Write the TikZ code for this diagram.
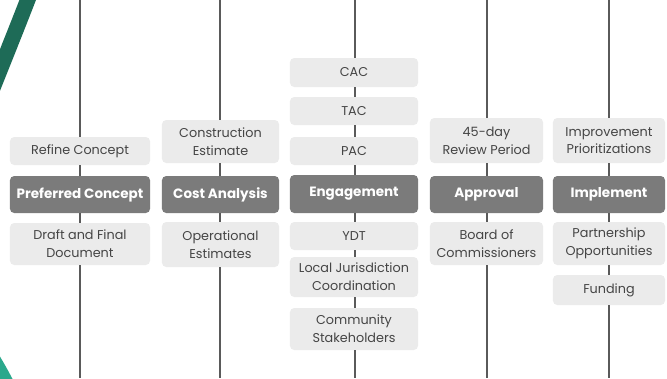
\documentclass[tikz,border=0pt]{standalone}
\usepackage{fontspec}
\setmainfont{Poppins}
\usetikzlibrary{positioning}

\definecolor{boxgray}{HTML}{EBEBEB}
\definecolor{darkbox}{HTML}{7B7B7B}
\definecolor{txtgray}{HTML}{454545}
\definecolor{linegray}{HTML}{5A5A5A}
\definecolor{arcgreen}{HTML}{1E6B57}
\definecolor{arcteal}{HTML}{2BA88C}

\tikzset{
	lightbox/.style={fill=boxgray, rounded corners=3pt, align=center, inner sep=0pt,
		text=txtgray, font=\fontsize{9.1}{12.6}\selectfont},
	darkboxed/.style={fill=darkbox, rounded corners=3pt, align=center, inner sep=0pt,
		text=white, font=\fontsize{9.6}{11}\selectfont\bfseries, minimum height=0.925cm},
	stem/.style={draw=linegray, line width=1.4pt},
	tick/.style={draw=linegray, line width=1.1pt}
}

\begin{document}
\begin{tikzpicture}[x=0.025cm, y=-0.025cm]
		\useasboundingbox (0,0) rectangle (667,378);
		\begin{scope}
			\clip (0,0) rectangle (667,378);
			\draw[arcgreen, line width=11pt] (30,-6) .. controls (20,20) and (8,50) .. (-8,90); %top band%
			\draw[arcteal, line width=9pt] (-10,352) .. controls (-3,364) and (2,372) .. (10,388); %bottom band%
		\end{scope}
		% column 1
		\node[lightbox, minimum width=3.5cm, minimum height=0.7cm] (refine) at (80,151) {Refine Concept};
		\node[darkboxed, minimum width=3.5cm] (preferred) at (80,194.5) {Preferred Concept};
		\node[lightbox, minimum width=3.5cm, minimum height=1.05cm] (draft) at (80,244) {Draft and Final\\Document};
		% column 2
		\node[lightbox, minimum width=2.925cm, minimum height=1.075cm] (construct) at (220.5,141.5) {Construction\\Estimate};
		\node[darkboxed, minimum width=2.925cm] (cost) at (220.5,194.5) {Cost Analysis};
		\node[lightbox, minimum width=2.925cm, minimum height=1.125cm] (operate) at (220.5,244.5) {Operational\\Estimates};
		% column 3
		\node[lightbox, minimum width=3.2cm, minimum height=0.725cm] (cac) at (354,72.5) {CAC};
		\node[lightbox, minimum width=3.2cm, minimum height=0.7cm] (tac) at (354,111) {TAC};
		\node[lightbox, minimum width=3.2cm, minimum height=0.7cm] (pac) at (354,151) {PAC};
		\node[darkboxed, minimum width=3.2cm, minimum height=0.95cm] (engage) at (354,194) {Engagement};
		\node[lightbox, minimum width=3.2cm, minimum height=0.7cm] (ydt) at (354,236) {YDT};
		\node[lightbox, minimum width=3.2cm, minimum height=1.0cm] (local) at (354,277) {Local Jurisdiction\\Coordination};
		\node[lightbox, minimum width=3.2cm, minimum height=1.05cm] (community) at (354,329) {Community\\Stakeholders};
		% column 4
		\node[lightbox, minimum width=2.825cm, minimum height=1.125cm] (review) at (486.5,140.5) {45-day\\Review Period};
		\node[darkboxed, minimum width=2.825cm] (approval) at (486.5,194.5) {Approval};
		\node[lightbox, minimum width=2.825cm, minimum height=1.075cm] (board) at (486.5,243.5) {Board of\\Commissioners};
		% column 5
		\node[lightbox, minimum width=2.8cm, minimum height=1.125cm] (improve) at (609,140.5) {Improvement\\Prioritizations};
		\node[darkboxed, minimum width=2.8cm] (implement) at (609,194.5) {Implement};
		\node[lightbox, minimum width=2.8cm, minimum height=1.075cm] (partner) at (609,243.5) {Partnership\\Opportunities};
		\node[lightbox, minimum width=2.8cm, minimum height=0.75cm] (funding) at (609,290) {Funding};
		% ends of the stems
		\coordinate (top1) at (80,0);   \coordinate (bot1) at (80,378);
		\coordinate (top2) at (220,0);  \coordinate (bot2) at (220,378);
		\coordinate (top3) at (355,0);  \coordinate (bot3) at (355,378);
		\coordinate (top4) at (487,0);  \coordinate (bot4) at (487,378);
		\coordinate (top5) at (609,0);  \coordinate (bot5) at (609,378);
		\draw[stem] (top1) -- (refine.north -| top1);
		\draw[stem] (draft.south -| bot1) -- (bot1);
		\draw[stem] (top2) -- (construct.north -| top2);
		\draw[stem] (operate.south -| bot2) -- (bot2);
		\draw[stem] (top3) -- (cac.north -| top3);
		\draw[stem] (community.south -| bot3) -- (bot3);
		\draw[stem] (top4) -- (review.north -| top4);
		\draw[stem] (board.south -| bot4) -- (bot4);
		\draw[stem] (top5) -- (improve.north -| top5);
		\draw[stem] (funding.south -| bot5) -- (bot5);
		% short links between boxes
		\draw[tick] (refine.south -| top1) -- (preferred.north -| top1);
		\draw[tick] (preferred.south -| top1) -- (draft.north -| top1);
		\draw[tick] (construct.south -| top2) -- (cost.north -| top2);
		\draw[tick] (cost.south -| top2) -- (operate.north -| top2);
		\draw[tick] (cac.south -| top3) -- (tac.north -| top3);
		\draw[tick] (tac.south -| top3) -- (pac.north -| top3);
		\draw[tick] (pac.south -| top3) -- (engage.north -| top3);
		\draw[tick] (engage.south -| top3) -- (ydt.north -| top3);
		\draw[tick] (ydt.south -| top3) -- (local.north -| top3);
		\draw[tick] (local.south -| top3) -- (community.north -| top3);
		\draw[tick] (review.south -| top4) -- (approval.north -| top4);
		\draw[tick] (approval.south -| top4) -- (board.north -| top4);
		\draw[tick] (improve.south -| top5) -- (implement.north -| top5);
		\draw[tick] (implement.south -| top5) -- (partner.north -| top5);
		\draw[tick] (partner.south -| top5) -- (funding.north -| top5);
	\end{tikzpicture}
\end{document}
